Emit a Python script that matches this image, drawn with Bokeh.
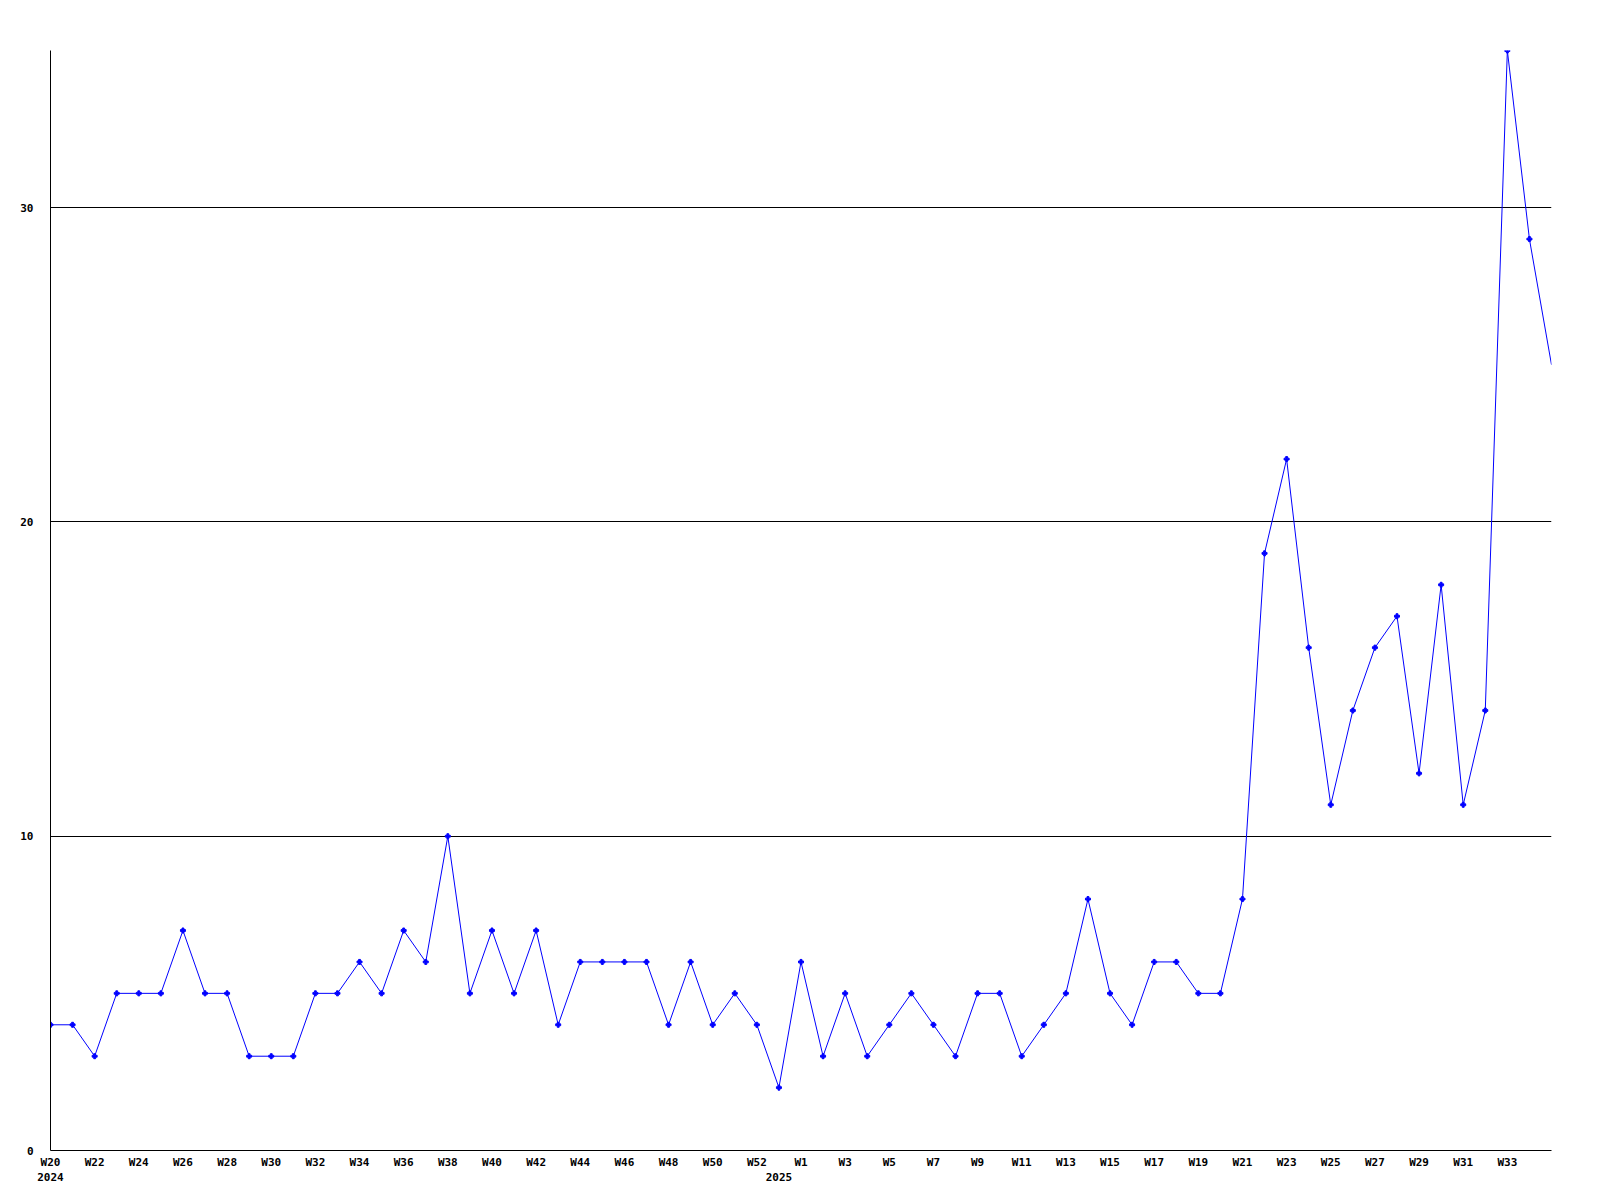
from bokeh.plotting import figure
from bokeh.models import FixedTicker, LinearAxis, Range1d
from bokeh.embed import file_html
from bokeh.resources import INLINE

# Week labels (2024: W20..W52, 2025: W0..W35)
weeks_2024 = ["W%d" % w for w in range(20, 53)]
weeks_2025 = ["W%d" % w for w in range(0, 36)]
week_labels = weeks_2024 + weeks_2025
years = ["2024", "2025"]

values = [4, 4, 3, 5, 5, 5, 7, 5, 5, 3,
          3, 3, 5, 5, 6, 5, 7, 6, 10, 5,
          7, 5, 7, 4, 6, 6, 6, 6, 4, 6,
          4, 5, 4,
          2, 6, 3, 5, 3, 4, 5, 4, 3, 5,
          5, 3, 4, 5, 8, 5, 4, 6, 6, 5,
          5, 8, 19, 22, 16, 11, 14, 16, 17, 12,
          18, 11, 14, 35, 29, 25]
y_ticks = [0, 10, 20, 30]

x = list(range(len(values)))
year_starts = [0, len(weeks_2024)]

FONT = "DejaVu Sans Mono"

p = figure(frame_width=1501, frame_height=1100,
           x_range=Range1d(0, len(values) - 1), y_range=Range1d(0, 35),
           output_backend="svg", toolbar_location=None,
           min_border_left=50, min_border_top=50, min_border_right=30,
           min_border_bottom=8)
p.outline_line_color = None
p.background_fill_color = "white"
p.border_fill_color = "white"

p.xgrid.visible = False
p.ygrid.grid_line_color = "black"
p.ygrid.grid_line_width = 1
p.ygrid.ticker = FixedTicker(ticks=y_ticks)

p.yaxis.ticker = FixedTicker(ticks=y_ticks)
p.yaxis.axis_line_color = "black"
p.yaxis.major_tick_line_color = None
p.yaxis.minor_tick_line_color = None
p.yaxis.major_tick_out = 0
p.yaxis.major_tick_in = 0
p.yaxis.major_label_standoff = 17
p.yaxis.major_label_text_align = "left"
p.yaxis.major_label_text_font = FONT
p.yaxis.major_label_text_font_style = "bold"
p.yaxis.major_label_text_font_size = "11px"
p.yaxis.major_label_text_color = "black"

# every other week labelled; the last (partial) week is not
tick_idx = [i for i in x[:-1] if i % 2 == 0]
p.xaxis.ticker = FixedTicker(ticks=tick_idx)
p.xaxis.major_label_overrides = {i: week_labels[i] for i in tick_idx}
p.xaxis.axis_line_color = "black"
p.xaxis.major_tick_line_color = None
p.xaxis.minor_tick_line_color = None
p.xaxis.major_tick_out = 0
p.xaxis.major_tick_in = 0
p.xaxis.major_label_standoff = 5
p.xaxis.major_label_text_font = FONT
p.xaxis.major_label_text_font_style = "bold"
p.xaxis.major_label_text_font_size = "11px"
p.xaxis.major_label_text_color = "black"

year_axis = LinearAxis(ticker=FixedTicker(ticks=year_starts),
                       major_label_overrides={s: yv for s, yv in zip(year_starts, years)},
                       axis_line_color=None, major_tick_line_color=None,
                       minor_tick_line_color=None, major_tick_out=0, major_tick_in=0,
                       major_label_standoff=1,
                       major_label_text_font=FONT,
                       major_label_text_font_style="bold",
                       major_label_text_font_size="11px",
                       major_label_text_color="black")
p.add_layout(year_axis, "below")

p.line(x, values, line_color="#0000ff", line_width=1)
p.scatter(x[:-1], values[:-1], marker="plus", size=5, color="#0000ff")

open("out.html", "w").write(file_html(p, INLINE))
